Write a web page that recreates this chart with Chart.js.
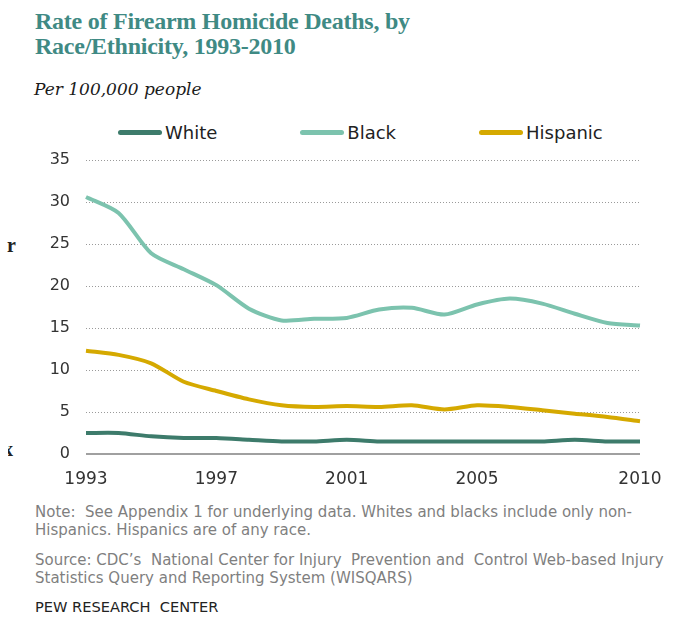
<!DOCTYPE html>
<html>
<head>
<meta charset="utf-8">
<script src="https://cdn.jsdelivr.net/npm/chart.js@4.4.1/dist/chart.umd.min.js"></script>
<style>
  body { margin: 0; background: #fff; width: 673px; height: 618px; position: relative; overflow: hidden; }
  .title { position: absolute; left: 35px; top: 9px; font: bold 24px "Liberation Serif", serif; letter-spacing: -0.25px; line-height: 25px; color: #3f8a84; }
  .sub { position: absolute; left: 34px; top: 79px; font: italic 17px "DejaVu Serif", serif; color: #1a1a1a; }
  #legend { position: absolute; left: 118px; top: 122px; display: flex; gap: 83px; font: 18px "DejaVu Sans", sans-serif; color: #222; }
  #legend .item { display: flex; align-items: center; }
  #legend .swatch { width: 44px; height: 5px; border-radius: 3px; margin-right: 3px; }
  #chartBox { position: absolute; left: 0; top: 150px; }
  .note { position: absolute; left: 35px; font: 15px "DejaVu Sans", sans-serif; line-height: 18px; color: #7f7f7f; }
  .pew { position: absolute; left: 35px; top: 598px; font: 14.6px "DejaVu Sans", sans-serif; color: #222; }
  .stray { position: absolute; font: bold 20px "Liberation Serif", serif; color: #222; }
</style>
</head>
<body>
<div class="title">Rate of Firearm Homicide Deaths, by<br>Race/Ethnicity, 1993-2010</div>
<div class="sub">Per 100,000 people</div>
<div id="legend"></div>
<div class="stray" style="left:7px;top:234px;">r</div>
<div class="stray" style="left:8px;top:438px;width:10px;overflow:hidden;"><span style="margin-left:-5px;">x</span></div>
<div id="chartBox"><canvas id="chart" width="673" height="340"></canvas></div>
<div class="note" style="top:503px;">Note:&nbsp; See Appendix 1 for underlying data. Whites and blacks include only non-<br>Hispanics. Hispanics are of any race.</div>
<div class="note" style="top:551px;">Source: CDC’s&nbsp; National Center for Injury&nbsp; Prevention and&nbsp; Control Web-based Injury<br>Statistics Query and Reporting System (WISQARS)</div>
<div class="pew">PEW RESEARCH&nbsp; CENTER</div>

<script>
const years = ['1993','1994','1995','1996','1997','1998','1999','2000','2001','2002','2003','2004','2005','2006','2007','2008','2009','2010'];
const shownYears = ['1993','1997','2001','2005','2010'];

const seriesNames = ['White', 'Black', 'Hispanic'];
const seriesColors = ['#3d7b6b', '#7cc3ae', '#d5a900'];

const white = [2.5, 2.5, 2.1, 1.9, 1.9, 1.7, 1.5, 1.5, 1.7, 1.5, 1.5, 1.5, 1.5, 1.5, 1.5, 1.7, 1.5, 1.5];
const black = [30.6, 28.7, 23.9, 22.0, 20.1, 17.3, 15.9, 16.1, 16.2, 17.2, 17.4, 16.6, 17.8, 18.5, 17.9, 16.7, 15.6, 15.3];
const hispanic = [12.3, 11.8, 10.8, 8.6, 7.5, 6.5, 5.8, 5.6, 5.7, 5.6, 5.8, 5.3, 5.8, 5.6, 5.2, 4.8, 4.4, 3.9];

const seriesValues = [white, black, hispanic];

// html legend built from the series
const legend = document.getElementById('legend');
seriesNames.forEach((name, i) => {
  const item = document.createElement('div');
  item.className = 'item';
  const sw = document.createElement('span');
  sw.className = 'swatch';
  sw.style.background = seriesColors[i];
  const txt = document.createElement('span');
  txt.textContent = name;
  item.appendChild(sw);
  item.appendChild(txt);
  legend.appendChild(item);
});

const datasets = seriesNames.map((name, i) => ({
  label: name,
  data: seriesValues[i],
  borderColor: seriesColors[i],
  backgroundColor: seriesColors[i],
  borderWidth: 4,
  pointRadius: 0,
  tension: 0.25,
  fill: false
}));
// draw black on top like the original
datasets.reverse();

const ctx = document.getElementById('chart').getContext('2d');
new Chart(ctx, {
  type: 'line',
  data: { labels: years, datasets: datasets },
  options: {
    responsive: false,
    animation: false,
    layout: { padding: { top: 10, right: 33, left: 0, bottom: 0 } },
    plugins: {
      legend: { display: false },
      tooltip: { enabled: false }
    },
    scales: {
      x: {
        grid: { display: false, drawTicks: false },
        border: { display: false },
        afterFit: s => { s.height = 36; s.paddingLeft = 0; s.paddingRight = 0; },
        ticks: {
          autoSkip: false,
          maxRotation: 0,
          padding: 15,
          color: '#333',
          font: { family: 'DejaVu Sans', size: 17 },
          callback: function (v) {
            const lab = this.getLabelForValue(v);
            return shownYears.includes(lab) ? lab : '';
          }
        }
      },
      y: {
        min: 0,
        max: 35,
        afterFit: s => { s.width = 86; s.paddingTop = 0; s.paddingBottom = 0; },
        grid: {
          drawTicks: false,
          color: c => c.tick && c.tick.value === 0 ? '#a0a0a0' : '#9a9a9a',
          lineWidth: c => c.tick && c.tick.value === 0 ? 2 : 1
        },
        border: {
          display: false,
          dash: c => c.tick && c.tick.value === 0 ? [] : [1, 2]
        },
        ticks: {
          stepSize: 5,
          padding: 16,
          color: '#333',
          font: { family: 'DejaVu Sans', size: 16 }
        }
      }
    }
  }
});
</script>
</body>
</html>
